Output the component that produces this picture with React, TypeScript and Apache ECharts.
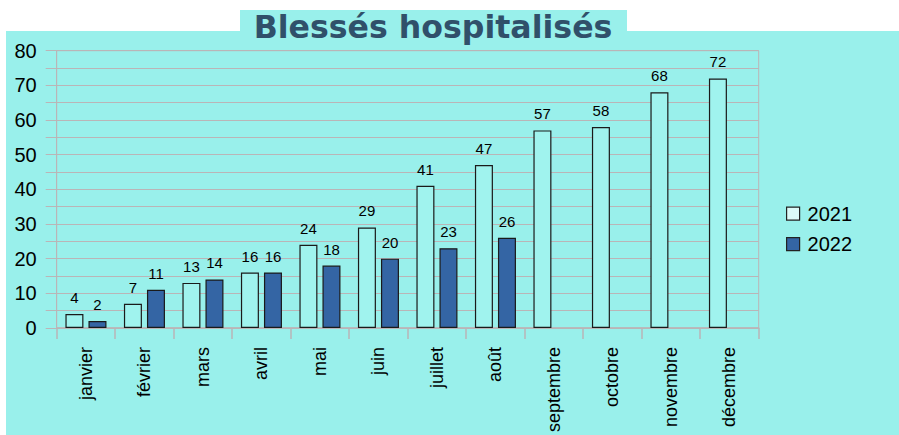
import React, { useEffect, useRef } from "react";
import * as echarts from "echarts";

const months = ["janvier", "février", "mars", "avril", "mai", "juin", "juillet", "août", "septembre", "octobre", "novembre", "décembre"];
const values2021 = [4, 7, 13, 16, 24, 29, 41, 47, 57, 58, 68, 72];
const values2022: (number | null)[] = [2, 11, 14, 16, 18, 20, 23, 26, null, null, null, null];
const seriesNames = ["2021", "2022"];
const titleText = "Blessés hospitalisés";

const BG = "#99f0eb";
const GRID = "#bab5b7";
const FONT = "Liberation Sans";

export default function App() {
  const ref = useRef<HTMLDivElement>(null);
  useEffect(() => {
    if (!ref.current) return;
    const chart = echarts.init(ref.current, null, { renderer: "svg" });
    chart.setOption({
      animation: false,
      backgroundColor: BG,
      graphic: [
        { type: "rect", shape: { x: 0, y: 0, width: 899, height: 31 }, style: { fill: "#ffffff" }, silent: true },
        { type: "rect", shape: { x: 0, y: 0, width: 6, height: 435 }, style: { fill: "#ffffff" }, silent: true },
        { type: "rect", shape: { x: 240, y: 10, width: 387, height: 22 }, style: { fill: BG }, silent: true },
        {
          type: "text",
          x: 433,
          y: 27,
          style: {
            text: titleText,
            fill: "#30506a",
            font: "bold 31.6px 'DejaVu Sans'",
            textAlign: "center",
            textVerticalAlign: "middle",
          },
          silent: true,
        },
      ],
      grid: {
        left: 56.7,
        right: 140.3,
        top: 50.7,
        bottom: 105.3,
        show: true,
        borderColor: GRID,
        borderWidth: 1,
        backgroundColor: "transparent",
      },
      legend: {
        orient: "vertical",
        left: 786,
        top: 203.7,
        padding: 0,
        itemWidth: 13,
        itemHeight: 13,
        itemGap: 10.5,
        icon: "rect",
        textStyle: { fontFamily: FONT, fontSize: 20, color: "#000", lineHeight: 20, padding: [0, 0, 0, 3] },
        data: [
          { name: seriesNames[0], itemStyle: { color: "#dcfaf8", borderColor: "#222", borderWidth: 1.2 } },
          { name: seriesNames[1], itemStyle: { color: "#3465a4", borderColor: "#222", borderWidth: 1.2 } },
        ],
      },
      xAxis: {
        type: "category",
        data: months,
        axisLine: { show: true, lineStyle: { color: GRID, width: 1.5 } },
        axisTick: { show: true, length: 11, lineStyle: { color: GRID, width: 1.5 } },
        axisLabel: {
          rotate: 90,
          margin: 19,
          fontFamily: FONT,
          fontSize: 18,
          color: "#000",
          interval: 0,
        },
      },
      yAxis: {
        type: "value",
        min: 0,
        max: 80,
        interval: 5,
        axisLine: { show: true, lineStyle: { color: GRID, width: 1 } },
        axisTick: { show: true, length: 11, lineStyle: { color: GRID, width: 1 } },
        splitLine: { show: true, lineStyle: { color: GRID, width: 1 } },
        axisLabel: {
          margin: 20,
          fontFamily: FONT,
          fontSize: 20,
          color: "#000",
          formatter: (v: number) => (v % 10 === 0 ? String(v) : ""),
        },
      },
      series: [
        {
          name: seriesNames[0],
          type: "bar",
          data: values2021,
          barWidth: 18,
          barGap: "28%",
          itemStyle: { color: "#a0f3ee", borderColor: "#1a1a1a", borderWidth: 1.2 },
          label: { show: true, position: "top", distance: 9, fontFamily: FONT, fontSize: 15, color: "#000" },
        },
        {
          name: seriesNames[1],
          type: "bar",
          data: values2022,
          barWidth: 18,
          barGap: "28%",
          itemStyle: { color: "#3465a4", borderColor: "#1a1a1a", borderWidth: 1.2 },
          label: { show: true, position: "top", distance: 9, fontFamily: FONT, fontSize: 15, color: "#000" },
        },
      ],
    });
    return () => chart.dispose();
  }, []);
  return <div ref={ref} style={{ position: "absolute", left: 0, top: 0, width: 899, height: 435 }} />;
}
